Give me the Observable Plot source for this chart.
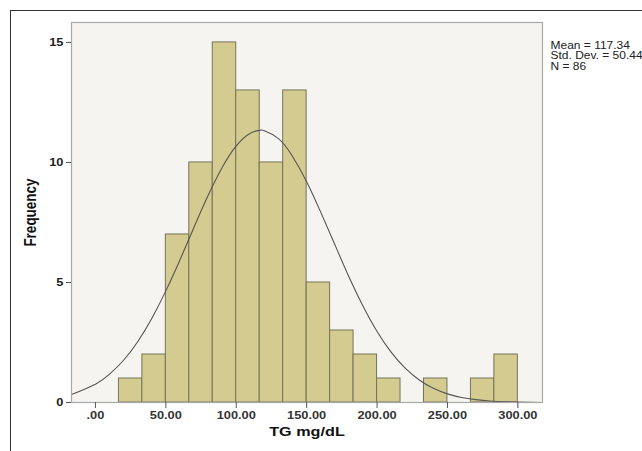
<!DOCTYPE html>
<html>
<head>
<meta charset="utf-8">
<script src="https://cdn.jsdelivr.net/npm/d3@7"></script>
<script src="https://cdn.jsdelivr.net/npm/@observablehq/plot@0.6"></script>
<style>
  html, body { margin: 0; padding: 0; background: #fff; }
  #wrap { position: relative; width: 642px; height: 451px; overflow: hidden; }
  #outer { position: absolute; left: 10px; top: 10px; width: 700px; height: 500px;
           border-left: 1.5px solid #333; border-top: 1.5px solid #333; box-sizing: border-box; pointer-events: none; }
  #chart { position: absolute; left: 0; top: 0; }
</style>
</head>
<body>
<div id="wrap"><div id="chart"></div><div id="outer"></div></div>
<script>
// Histogram bins (TG mg/dL) and counts
const binEdges = [16.67, 33.33, 50, 66.67, 83.33, 100, 116.67, 133.33, 150, 166.67, 183.33, 200, 216.67, 233.33, 250, 266.67, 283.33, 300];
const counts   = [1, 2, 7, 10, 15, 13, 10, 13, 5, 3, 2, 1, 0, 1, 0, 1, 2];

// Normal curve points
const curveX = [-17, 0, 10, 20, 30, 40, 50, 60, 70, 80, 90, 100, 110, 117, 120, 130, 140, 150, 160, 170, 180, 190, 200, 210, 220, 230, 240, 250, 260, 270, 280, 290, 300, 317];
const curveY = [0.33, 0.76, 1.18, 1.76, 2.53, 3.50, 4.65, 5.94, 7.30, 8.62, 9.79, 10.69, 11.22, 11.34, 11.32, 10.99, 10.25, 9.20, 7.93, 6.58, 5.24, 4.02, 2.96, 2.10, 1.43, 0.94, 0.59, 0.36, 0.21, 0.12, 0.06, 0.03, 0.02, 0.003];

const xTicks = [0, 50, 100, 150, 200, 250, 300];
const yTicks = [0, 5, 10, 15];
const statsLines = ["Mean = 117.34", "Std. Dev. = 50.44", "N = 86"];
const xTitle = "TG mg/dL";
const yTitle = "Frequency";

const bins = counts.map((c, i) => ({x1: binEdges[i], x2: binEdges[i + 1], y: c}));
const curve = curveX.map((x, i) => ({x, y: curveY[i]}));

const FONT = "'Liberation Sans', Arial, sans-serif";

const svg = Plot.plot({
  width: 642,
  height: 451,
  marginLeft: 71,
  marginRight: 100,
  marginTop: 22,
  marginBottom: 49,
  style: {fontFamily: FONT, color: "#222", background: "transparent", overflow: "hidden"},
  x: {domain: [-17, 317.5], ticks: xTicks},
  y: {domain: [0, 15.83], ticks: yTicks},
  marks: [
    Plot.frame({fill: "#f5f4f0", stroke: null}),
    Plot.rectY(bins.filter(d => d.y > 0), {x1: "x1", x2: "x2", y: "y", fill: "#d3cb8f", stroke: "#77735a", strokeWidth: 1, insetLeft: 0, insetRight: 0}),
    Plot.line(curve, {x: "x", y: "y", curve: "natural", stroke: "#555", strokeWidth: 1.1}),
    Plot.frame({stroke: "#a8a8a8", strokeWidth: 1.2}),
    Plot.axisX({ticks: xTicks, tickFormat: d => d === 0 ? ".00" : d.toFixed(2), tickSize: 6, tickPadding: 3, fontSize: 10.7, fontWeight: "bold", fill: "#333", label: null, stroke: "#555"}),
    Plot.axisY({ticks: yTicks, tickFormat: d => String(d), tickSize: 5, tickPadding: 3, fontSize: 10.7, fontWeight: "bold", fill: "#222", label: null, stroke: "#555"}),
    Plot.text([yTitle], {frameAnchor: "left", dx: -41, rotate: -90, textAnchor: "middle", fontSize: 13.5, fontWeight: "bold", fill: "#111", text: d => d}),
    Plot.text([xTitle], {frameAnchor: "bottom", dy: 33, textAnchor: "middle", fontSize: 13.5, fontWeight: "bold", fill: "#111", text: d => d}),
    Plot.text([statsLines.join("\n")], {frameAnchor: "top-right", dx: 8, dy: 19, textAnchor: "start", lineAnchor: "top", lineHeight: 1.05, fontSize: 10, fill: "#222", text: d => d})
  ]
});

// The reference text is horizontally stretched; mimic by scaling text horizontally
svg.querySelectorAll("text").forEach(t => {
  let tr = t.getAttribute("transform");
  const isRot = tr && tr.includes("rotate");
  const sc = isRot ? " scale(1,1.2)" : " scale(1.2,1)";
  if (tr) {
    t.setAttribute("transform", tr + sc);
  } else {
    const x = t.getAttribute("x") || 0, y = t.getAttribute("y") || 0;
    t.removeAttribute("x"); t.removeAttribute("y");
    t.setAttribute("transform", `translate(${x},${y})` + sc);
  }
});

document.getElementById("chart").appendChild(svg);
</script>
</body>
</html>
